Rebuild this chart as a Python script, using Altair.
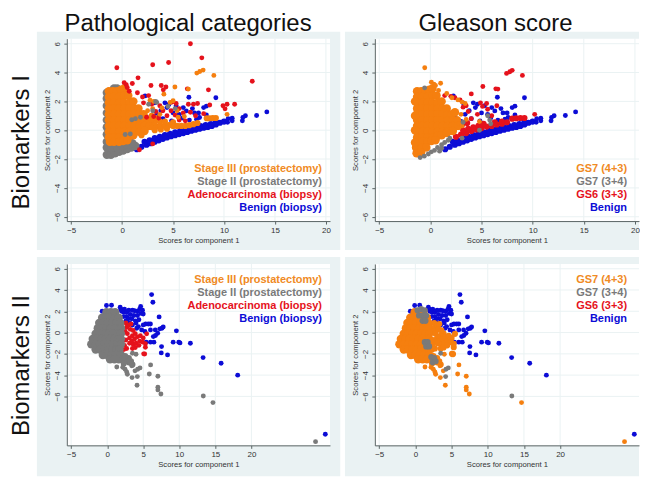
import altair as alt
import pandas as pd

# ---- shared colours
ORANGE = "#F57F0F"
LEG_ORANGE = "#F08A24"
GRAY = "#7A7A7A"
RED = "#E5121C"
BLUE = "#0C0CD6"
BG = "#EAF2F3"
GRID = "#EAF2F3"
AXIS = "#5A6464"
TXT = "#333333"
FONT = "Liberation Sans"

x_ticks = [-5, 0, 5, 10, 15, 20]
y_ticks = [-6, -4, -2, 0, 2, 4, 6]

legend_path = ["Stage III (prostatectomy)", "Stage II (prostatectomy)", "Adenocarcinoma (biopsy)", "Benign (biopsy)"]
legend_gs = ["GS7 (4+3)", "GS7 (3+4)", "GS6 (3+3)", "Benign"]

# ---- Biomarkers I (top row)
top_orange_blob = [
    (-1.3, 2.7), (-0.9, 2.7), (-0.5, 2.7), (-0.1, 2.8), (0.2, 2.9),
    (-1.3, 2.3), (-0.8, 2.3), (-0.3, 2.3), (0.2, 2.4), (0.6, 2.4),
    (-1.3, 1.9), (-0.8, 1.9), (-0.3, 1.9), (0.2, 1.9), (0.7, 1.9), (1.1, 2.0),
    (-1.3, 1.5), (-0.8, 1.5), (-0.3, 1.5), (0.2, 1.5), (0.7, 1.5), (1.2, 1.5), (1.6, 1.5),
    (-1.3, 1.1), (-0.8, 1.1), (-0.3, 1.1), (0.2, 1.1), (0.7, 1.1), (1.2, 1.1), (1.7, 1.1), (2.1, 1.1),
    (-1.3, 0.7), (-0.8, 0.7), (-0.3, 0.7), (0.2, 0.7), (0.7, 0.7), (1.2, 0.7), (1.7, 0.7), (2.2, 0.7), (2.6, 0.7),
    (-1.3, 0.3), (-0.8, 0.3), (-0.3, 0.3), (0.2, 0.3), (0.7, 0.3), (1.2, 0.3), (1.7, 0.3), (2.2, 0.3), (2.7, 0.3),
    (-1.3, -0.1), (-0.8, -0.1), (-0.3, -0.1), (0.2, -0.1), (0.7, -0.1), (1.2, -0.1), (1.7, -0.1), (2.2, -0.05),
    (-1.3, -0.5), (-0.8, -0.5), (-0.3, -0.5), (0.2, -0.5), (0.7, -0.4), (1.1, -0.35),
    (-1.2, -0.8), (-0.8, -0.8), (-0.3, -0.8), (0.1, -0.75), (0.5, -0.7),
]
tl_orange_band = [
    (3.0, 0.2), (3.4, 0.25), (3.8, 0.3), (4.2, 0.3), (4.6, 0.35), (5.0, 0.3), (5.4, 0.3), (5.8, 0.3),
    (6.2, 0.3), (6.6, 0.35), (7.0, 0.42), (7.4, 0.5), (3.2, 0.55), (3.7, 0.6), (4.2, 0.6),
    (8.3, 0.83), (8.6, 0.83), (8.9, 0.85), (9.2, 0.85),
    (2.9, 0.75), (3.3, 0.85), (2.9, 1.0), (3.2, 0.0), (3.8, 0.05), (4.4, 0.1), (5.0, 0.55), (1.9, -0.35),
]
tl_orange_dots = [
    (7.33, 3.96), (7.62, 4.07), (7.95, 4.17), (9.0, 3.8), (5.18, 3.0), (6.5, 2.85), (4.1, 2.5), (10.3, 1.1),
    (2.74, 2.08), (3.1, 2.0), (4.7, 1.92), (5.0, 2.04), (3.9, 1.55), (2.5, 1.35), (3.7, 1.1), (5.4, 1.35),
    (3.0, 1.5), (5.5, 0.9), (6.1, 0.95),
]
tl_gray_blob = [
    (-1.5, -1.7), (-1.1, -1.7), (-0.7, -1.6), (-0.3, -1.5), (0.1, -1.4), (0.5, -1.3), (0.9, -1.2), (1.3, -1.1),
    (-1.5, -1.2), (-1.0, -1.2), (-0.5, -1.2), (0.0, -1.1), (0.5, -1.0), (1.0, -0.9),
    (-1.5, -0.8), (-1.5, -0.3), (-1.5, 0.2), (-1.5, 0.7), (-1.5, 1.2), (-1.5, 1.7), (-1.5, 2.2), (-1.5, 2.6),
    (-0.8, 2.9), (-0.5, 2.9),
]
tl_gray_dots = [
    (0.95, 0.73), (1.3, 0.8), (1.8, 0.9), (0.3, -0.3), (0.8, -0.26), (3.4, 1.92), (3.0, 1.35), (4.5, 1.65),
    (2.6, 1.8), (3.3, 2.0), (5.2, 1.5),
]
tl_red_dots = [
    (6.7, 6.0), (7.82, 5.02), (3.0, 4.54), (4.56, 4.7), (-0.52, 4.33), (1.56, 3.63), (12.77, 3.4), (0.2, 3.3),
    (1.0, 3.24), (2.83, 3.1), (3.84, 3.1), (4.3, 3.0), (4.04, 2.8), (6.4, 2.87), (8.47, 2.8), (0.5, 2.96),
    (0.4, 3.15), (0.7, 2.7), (1.5, 2.6), (2.0, 2.3), (2.6, 2.4), (11.04, 1.8), (10.3, 1.8), (9.9, 1.7), (10.1, 1.48),
    (2.9, 1.8), (3.3, 1.3), (3.7, 1.7), (4.0, 1.35), (4.4, 1.0), (4.8, 1.35), (5.2, 1.05), (5.6, 1.5), (6.0, 1.2),
    (6.5, 1.8), (7.0, 1.8), (7.4, 1.85), (6.7, 1.25), (7.2, 1.0), (8.0, 1.15), (8.6, 1.75), (4.9, 1.95), (5.6, 0.7),
    (3.6, 0.85), (3.1, 0.95), (2.4, 0.9), (6.2, 0.65), (1.7, -1.35), (3.0, -0.95), (2.1, 1.9), (5.3, 1.85),
]
top_blue_band = [
    (1.45, -1.32), (1.9, -1.15), (2.4, -1.0), (2.8, -0.9), (3.2, -0.8), (3.6, -0.7), (4.0, -0.6), (4.4, -0.5),
    (4.8, -0.42), (5.2, -0.35), (5.6, -0.27), (6.0, -0.2), (6.4, -0.12), (6.8, -0.04), (7.2, 0.03), (7.6, 0.1),
    (8.0, 0.17), (8.4, 0.23), (8.8, 0.3), (9.2, 0.4), (9.6, 0.52), (10.0, 0.6),
    (2.2, -0.8), (2.7, -0.7), (3.2, -0.55), (3.7, -0.45), (4.2, -0.33), (4.7, -0.25), (5.2, -0.15), (5.7, -0.05),
    (6.2, 0.05), (6.7, 0.12), (7.2, 0.2), (7.7, 0.28), (8.2, 0.35), (8.7, 0.43), (9.2, 0.55),
]
top_blue_dots = [
    (14.2, 1.27), (13.2, 1.02), (12.1, 1.0), (11.85, 0.88), (11.8, 0.65), (10.8, 0.83), (10.8, 0.65), (10.4, 0.8),
    (10.35, 0.55), (9.2, 2.25), (6.55, 2.29), (8.27, 1.67), (8.0, 1.57), (2.25, 2.38), (4.4, 1.57), (6.0, 1.57),
    (7.6, 0.88), (8.27, 1.06), (7.3, 0.76), (6.6, 0.7), (4.85, 0.65), (5.0, 0.46), (3.4, 1.1), (3.8, 1.35),
    (2.4, 0.88), (3.2, 1.9), (4.2, 1.9), (5.3, 1.7), (6.3, 1.34), (7.1, 1.2), (4.6, 1.8), (5.0, 1.2), (5.6, 1.1),
    (6.9, 1.5), (7.5, 1.2), (3.0, 0.6), (4.0, 0.8), (5.9, 0.85),
]
tr_orange_blob_extra = [
    (-1.4, -1.2), (-0.9, -1.2), (-0.4, -1.2), (-1.35, -1.6), (-0.9, -1.55), (-1.5, -0.85), (-1.5, 0.0),
    (-1.5, 1.0), (-1.5, 2.0), (1.6, -0.2), (2.4, 1.25),
]
tr_orange_dots = [
    (-0.55, 4.33), (0.1, 3.33), (0.35, 3.2), (0.5, 3.1), (1.0, 3.26), (0.8, 2.75), (1.6, 2.55), (2.1, 2.25),
    (2.7, 2.1), (3.1, 1.95), (3.4, 1.85), (3.0, 1.1), (2.8, 0.45), (3.1, 0.3), (3.5, 0.75), (4.8, 0.6),
]
tr_gray_dots = [
    (-0.56, 2.94), (-1.0, -1.9), (-0.6, -1.8), (-0.2, -1.65), (0.1, -1.5), (0.4, -1.4), (0.7, -1.2), (0.9, -1.45),
    (1.1, -1.0), (1.4, -0.85), (1.75, -0.7), (1.9, -0.55), (1.1, -1.25), (5.8, 0.7), (5.6, 1.0), (5.9, 0.45),
    (3.1, -0.55), (4.8, 0.0), (3.2, 0.55),
]
tr_red_band = [
    (2.5, -0.45), (3.0, -0.3), (3.5, -0.2), (4.0, -0.05), (4.5, 0.05), (5.0, 0.15), (5.5, 0.25), (6.0, 0.3),
    (6.5, 0.4), (7.0, 0.45), (7.5, 0.55), (3.2, 0.0), (3.7, 0.1), (4.2, 0.2), (4.7, 0.3), (5.2, 0.45),
    (3.1, 0.4), (3.6, 0.5), (8.0, 0.8), (8.4, 0.83), (8.8, 0.85), (9.2, 0.85), (7.0, 0.6), (6.3, 0.55),
]
tr_red_dots = [
    (7.45, 3.94), (7.77, 4.05), (8.0, 4.15), (9.0, 3.8), (10.2, 1.1), (5.13, 3.03), (6.4, 2.87), (6.6, 2.85),
    (4.0, 2.52), (2.0, 2.35), (1.4, 2.4), (2.9, 2.1), (4.9, 1.9), (5.1, 1.65), (5.6, 1.45), (5.5, 1.85),
    (3.2, 1.6), (3.7, 1.3), (4.0, 0.8), (4.6, 1.1), (3.5, 1.7), (2.4, 2.25), (-0.6, 2.8), (-0.6, 2.55),
    (6.5, 1.7), (6.0, 1.0),
]

# ---- Biomarkers II (bottom row)
bottom_blob = [
    (-0.1, 1.9), (0.5, 1.9), (1.1, 1.9),
    (-0.7, 1.4), (-0.1, 1.4), (0.5, 1.4), (1.1, 1.4), (1.6, 1.4),
    (-1.1, 0.9), (-0.5, 0.9), (0.1, 0.9), (0.7, 0.9), (1.3, 0.9), (1.8, 0.9),
    (-1.3, 0.4), (-0.7, 0.4), (-0.1, 0.4), (0.5, 0.4), (1.1, 0.4), (1.6, 0.4), (1.9, 0.4),
    (-1.6, -0.1), (-1.0, -0.1), (-0.4, -0.1), (0.2, -0.1), (0.8, -0.1), (1.4, -0.1), (1.9, -0.1),
    (-2.0, -0.6), (-1.4, -0.6), (-0.8, -0.6), (-0.2, -0.6), (0.4, -0.6), (1.0, -0.6), (1.6, -0.6), (1.9, -0.6),
    (-2.2, -1.1), (-1.6, -1.1), (-1.0, -1.1), (-0.4, -1.1), (0.2, -1.1), (0.8, -1.1), (1.4, -1.1), (1.9, -1.1),
    (-1.6, -1.6), (-1.0, -1.6), (-0.4, -1.6), (0.2, -1.6), (0.8, -1.6), (1.3, -1.6), (1.7, -1.6),
    (-0.6, -2.1), (0.0, -2.1), (0.6, -2.1), (1.2, -2.1), (1.9, -2.1),
    (0.4, -2.5), (1.0, -2.5), (1.6, -2.5), (2.2, -2.5), (2.6, -2.5),
]
bottom_tail = [(2.7, -2.6), (3.0, -2.8), (3.3, -2.7), (3.0, -2.4), (3.5, -3.0), (2.5, -2.2), (2.3, -2.9)]
bottom_scatter_orange_in_gs = [
    (1.33, -3.23), (2.16, -3.26), (2.48, -3.45), (2.7, -3.7), (2.8, -3.92), (3.45, -4.23), (3.4, -3.13),
    (3.86, -3.6), (4.14, -4.95), (6.02, -3.04), (5.84, -3.89), (7.03, -4.1), (7.03, -5.14), (7.03, -5.39),
    (7.45, -5.77), (14.67, -6.58), (28.9, -10.25), (4.0, -2.04), (2.94, -2.66),
]
bottom_scatter_gray_in_gs = [(4.23, -3.45), (4.55, -3.32), (4.18, -4.14), (13.33, -5.96), (3.5, -1.94)]
bottom_blue = [
    (6.16, 3.57), (6.34, 2.85), (-0.1, 2.54), (0.6, 2.57), (1.8, 2.38), (7.2, 1.47), (4.64, 2.45), (9.6, 0.16),
    (9.15, -0.9), (9.93, -0.9), (10.1, -0.97), (11.54, -1.0), (13.3, -2.35), (15.8, -2.88), (18.1, -4.0),
    (30.25, -9.56), (8.37, -2.1), (7.5, -1.91), (7.54, -1.32), (7.77, 0.53), (7.6, 0.4), (7.3, 0.35), (7.0, -0.06),
    (6.7, -0.28), (6.4, -0.38), (6.48, -0.9), (6.0, -0.9), (6.67, 0.25), (6.0, 0.25), (6.0, 0.8), (5.7, 0.8),
    (5.33, 0.8), (5.0, 0.72), (4.78, 0.25), (5.24, 0.1), (4.32, 0.56), (4.1, 0.4), (5.4, -0.9), (-0.7, 2.0),
    (1.9, 2.2), (2.0, 2.0), (2.3, 1.9), (2.4, 2.2), (2.7, 1.9), (2.7, 1.5), (3.0, 2.1), (3.2, 1.7), (3.5, 2.1),
    (3.4, 1.3), (3.7, 1.6), (3.8, 2.05), (3.9, 1.1), (4.2, 1.6), (4.2, 2.0), (4.5, 2.2), (4.7, 1.8), (4.9, 2.1),
    (5.0, 1.75), (2.6, 1.1), (2.9, 1.3), (3.1, 0.9), (3.5, 0.7), (4.0, 0.9), (2.3, 1.5), (4.4, 1.2),
]
bottom_red = [
    (5.06, -2.0), (5.2, -2.02), (5.3, -1.38), (5.3, -1.05), (5.47, -0.12), (2.6, 0.9), (2.7, 0.5), (2.5, 0.1),
    (3.0, 0.7), (3.3, 0.8), (3.2, 0.3), (2.8, -0.1), (3.5, -0.3), (3.9, -0.1), (3.1, -0.5), (2.6, -0.7),
    (3.4, -0.8), (3.8, -0.6), (4.2, -0.4), (4.6, -0.3), (5.0, -0.5), (3.1, -1.0), (3.6, -1.1), (4.0, -1.0),
    (4.5, -0.8), (4.9, -0.9), (2.2, -0.75), (3.5, -1.5), (3.9, -1.4), (2.7, -1.5), (2.3, -1.6), (4.4, -1.2),
    (3.6, 0.2), (2.4, -1.2),
]
br_gray_patch = [
    (0.3, 2.1), (0.8, 2.2), (1.3, 2.1), (0.5, 1.6), (1.0, 1.6), (1.5, 1.6), (1.0, 1.1), (1.4, 1.1),
    (1.3, -0.9), (1.7, -0.9), (1.5, -1.3), (1.9, -1.3), (2.2, -2.3), (2.6, -2.4), (2.4, -2.8), (2.8, -2.7),
]

ONE = pd.DataFrame({"a": [0]})


def box(x0, x1, y0, y1, color):
    return alt.Chart(ONE).mark_rect(color=color).encode(
        x=alt.value(x0), x2=alt.value(x1), y=alt.value(y0), y2=alt.value(y1)
    )


def txt(s, x, y, color=TXT, size=11, bold=False, align="right", angle=0):
    return alt.Chart(ONE).mark_text(
        color=color, fontSize=size, font=FONT, fontWeight="bold" if bold else "normal",
        align=align, baseline="alphabetic", angle=angle,
    ).encode(x=alt.value(x), y=alt.value(y), text=alt.value(s))


def panel(w, h, xd, yd, layers, legend, leg_x, leg_y0, bg_l, bg_r, bg_b, title=None, title_x=0, row=None, row_y=0):
    xs = alt.Scale(domain=xd, nice=False, zero=False)
    ys = alt.Scale(domain=yd, nice=False, zero=False)
    ax_x = alt.Axis(values=x_ticks, title="Scores for component 1", grid=False, format="d", domainColor=AXIS,
                    tickColor=AXIS, labelColor=TXT, titleColor=TXT, labelFont=FONT, titleFont=FONT, labelFontSize=8,
                    titleFontSize=7.7, titleFontWeight="normal", tickSize=3, labelPadding=2, titlePadding=2, zindex=1,
                    labelFlush=False)
    ax_y = alt.Axis(values=y_ticks, title="Scores for component 2", grid=False, format="d", domainColor=AXIS,
                    tickColor=AXIS, labelColor=TXT, titleColor=TXT, labelFont=FONT, titleFont=FONT, labelFontSize=8,
                    titleFontSize=7.7, titleFontWeight="normal", tickSize=3, labelPadding=2, titlePadding=2, zindex=1,
                    labelAngle=270, labelAlign="center", labelBaseline="bottom", labelFlush=False)
    enc_x = alt.X("x:Q", scale=xs, axis=ax_x)
    enc_y = alt.Y("y:Q", scale=ys, axis=ax_y)
    parts = [
        box(bg_l, bg_r, -7, bg_b, BG),
        box(0, w, 0, h, "white"),
        alt.Chart(pd.DataFrame({"x": x_ticks})).mark_rule(color=GRID, strokeWidth=1).encode(x=enc_x),
        alt.Chart(pd.DataFrame({"y": y_ticks})).mark_rule(color=GRID, strokeWidth=1).encode(y=enc_y),
    ]
    for rows, color, size in layers:
        df = pd.DataFrame(rows, columns=["x", "y"])
        parts.append(alt.Chart(df).mark_circle(color=color, size=size, opacity=1).encode(x=enc_x, y=enc_y))
    cols = [LEG_ORANGE, GRAY, RED, BLUE]
    for i, s in enumerate(legend):
        parts.append(txt(s, leg_x, leg_y0 + i * 13.1, color=cols[i], bold=True))
    if title:
        parts.append(txt(title, title_x, -8, color="#111111", size=24, align="center"))
    if row:
        parts.append(txt(row, -37.5, row_y, color="#111111", size=24, align="center", angle=270))
    return alt.layer(*parts).properties(width=w, height=h)


BLOB = 72
BAND = 38
DOT = 24
top_x = [-5.43, 20.4]
top_y = [-6.3, 6.35]
bot_x = [-5.6, 30.9]
bot_y = [-10.6, 6.45]

tl = panel(264, 183, top_x, top_y, [
    (top_blue_band, BLUE, BAND), (top_blue_dots, BLUE, DOT), (tl_gray_blob, GRAY, BLOB),
    (top_orange_blob, ORANGE, BLOB), (tl_orange_band, ORANGE, BAND), (tl_red_dots, RED, DOT),
    (tl_orange_dots, ORANGE, DOT), (tl_gray_dots, GRAY, DOT),
], legend_path, 256, 134, -30, 274.3, 212, title="Pathological categories", title_x=121.6,
    row="Biomarkers I", row_y=104)

tr = panel(265, 183, top_x, top_y, [
    (top_blue_band, BLUE, BAND), (top_blue_dots, BLUE, DOT), (tr_red_band, RED, BAND), (tr_red_dots, RED, DOT),
    (top_orange_blob, ORANGE, BLOB), (tr_orange_blob_extra, ORANGE, BLOB), (tr_orange_dots, ORANGE, DOT),
    (tr_gray_dots, GRAY, DOT),
], legend_gs, 253, 134, -30, 265, 212, title="Gleason score", title_x=121)

bl = panel(264, 182, bot_x, bot_y, [
    (bottom_blue, BLUE, DOT), (bottom_red, RED, DOT), (bottom_blob, GRAY, BLOB), (bottom_tail, GRAY, BAND),
    (bottom_scatter_orange_in_gs, GRAY, DOT), (bottom_scatter_gray_in_gs, GRAY, DOT),
], legend_path, 256, 19, -30, 274.3, 213, row="Biomarkers II", row_y=102)

br = panel(265, 182, bot_x, bot_y, [
    (bottom_blue, BLUE, DOT), (bottom_blob, ORANGE, BLOB), (bottom_tail, ORANGE, BAND), (bottom_red, ORANGE, BAND),
    (bottom_scatter_orange_in_gs, ORANGE, DOT), (br_gray_patch, GRAY, BAND), (bottom_scatter_gray_in_gs, GRAY, DOT),
], legend_gs, 253, 19, -30, 265, 213)

chart = alt.vconcat(
    alt.hconcat(tl, tr, spacing=4),
    alt.hconcat(bl, br, spacing=4),
    spacing=7,
).properties(
    padding={"left": 2, "top": 3, "right": 0, "bottom": 0}, background="white"
).configure_view(stroke=None)

chart.save("out.html", embed_options={"renderer": "svg", "actions": False})
